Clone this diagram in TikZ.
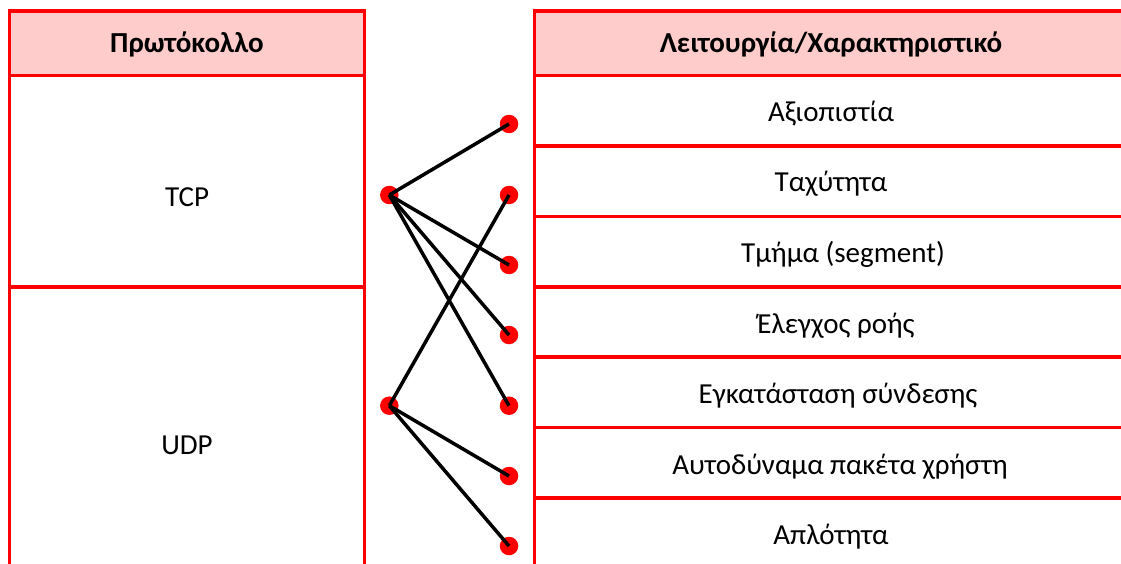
\documentclass[tikz,border=0pt]{standalone}
\usepackage{fontspec}
\setmainfont{Carlito}
\definecolor{hdrfill}{HTML}{FFCCCC}
\definecolor{tblred}{HTML}{FF0000}
\tikzset{
  grid/.style={draw=tblred, line width=3.2pt},
  hdr/.style={fill=hdrfill},
  cell/.style={anchor=base, inner sep=0pt, font=\fontsize{29}{34}\selectfont},
  hcell/.style={cell, font=\fontsize{29}{34}\selectfont\bfseries},
  dot/.style={circle, fill=tblred, inner sep=0pt, minimum size=18.5pt},
  link/.style={draw=black, line width=3.5pt},
}
\begin{document}
\begin{tikzpicture}[x=1pt,y=-1pt]
\useasboundingbox (0,0) rectangle (1121,564);
% header fills
\fill[hdr] (9.5,11) rectangle (364.5,75.5);
\fill[hdr] (534.5,11) rectangle (1127.5,75.5);
% left table
\draw[grid] (9.5,580) -- (9.5,11) -- (364.5,11) -- (364.5,580);
\draw[grid] (9.5,75.5) -- (364.5,75.5);
\draw[grid] (9.5,287) -- (364.5,287);
% right table
\draw[grid] (534.5,580) -- (534.5,11) -- (1127.5,11);
\foreach \y in {75.5,146,216.5,287,357,427.5,498}
  \draw[grid] (534.5,\y) -- (1127.5,\y);
% texts
\node[hcell] (hp) at (187,53) {Πρωτόκολλο};
\node[hcell] (hf) at (831,53) {Λειτουργία/Χαρακτηριστικό};
\node[cell] (tcp) at (187,206.5) {TCP};
\node[cell] (udp) at (187,454.5) {UDP};
\node[cell] (f1) at (831,121.5) {Αξιοπιστία};
\node[cell] (f2) at (831,192) {Ταχύτητα};
\node[cell] (f3) at (843,262.5) {Τμήμα (segment)};
\node[cell] (f4) at (836,333) {Έλεγχος ροής};
\node[cell] (f5) at (838,403.5) {Εγκατάσταση σύνδεσης};
\node[cell] (f6) at (840,474) {Αυτοδύναμα πακέτα χρήστη};
\node[cell] (f7) at (831,544) {Απλότητα};
% dots
\node[dot] (L1) at (389.3,195) {};
\node[dot] (L2) at (389.3,405.7) {};
\node[dot] (R1) at (509,124) {};
\node[dot] (R2) at (509,195) {};
\node[dot] (R3) at (509,265) {};
\node[dot] (R4) at (509,335) {};
\node[dot] (R5) at (509,405.7) {};
\node[dot] (R6) at (509,476) {};
\node[dot] (R7) at (509,546) {};
% links
\draw[link] (L1.center) -- (R1.center);
\draw[link] (L1.center) -- (R3.center);
\draw[link] (L1.center) -- (R4.center);
\draw[link] (L1.center) -- (R5.center);
\draw[link] (L2.center) -- (R2.center);
\draw[link] (L2.center) -- (R6.center);
\draw[link] (L2.center) -- (R7.center);
\end{tikzpicture}
\end{document}
